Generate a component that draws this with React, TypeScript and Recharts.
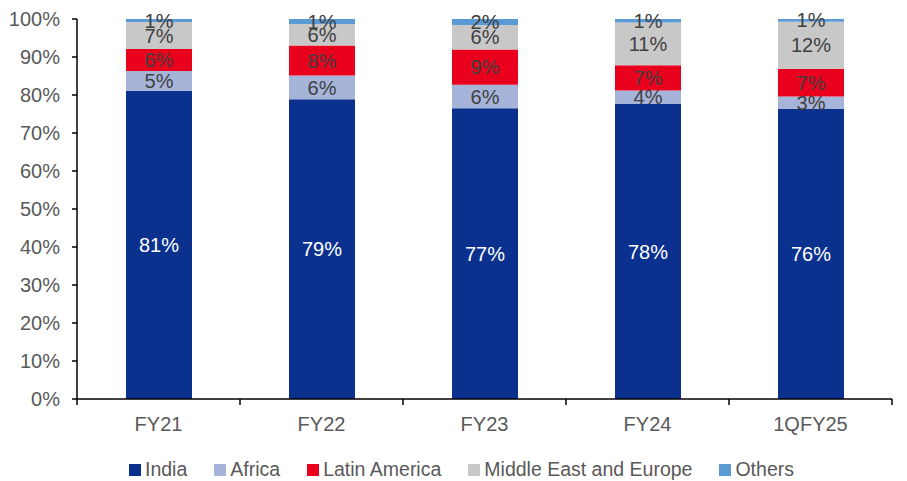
import React from 'react';
import { BarChart, Bar, XAxis, YAxis, Legend, LabelList } from 'recharts';

const categories = ['FY21', 'FY22', 'FY23', 'FY24', '1QFY25'];
const india = [81.1, 78.9, 76.5, 77.6, 76.3];
const africa = [5.2, 6.2, 6.2, 3.6, 3.3];
const latinAmerica = [5.8, 7.9, 9.3, 6.6, 7.3];
const middleEastEurope = [7.1, 5.7, 6.4, 11.3, 12.4];
const others = [0.8, 1.3, 1.6, 0.9, 0.7];
const yTicks = [0, 10, 20, 30, 40, 50, 60, 70, 80, 90, 100];

const series = [
  { key: 'india', name: 'India', color: '#0b318f', label: '#ffffff' },
  { key: 'africa', name: 'Africa', color: '#a6b4da', label: '#404040' },
  { key: 'latam', name: 'Latin America', color: '#e8001c', label: '#404040' },
  { key: 'mee', name: 'Middle East and Europe', color: '#c8c8c9', label: '#404040' },
  { key: 'others', name: 'Others', color: '#5b9bd5', label: '#404040' },
];

const data = categories.map((c, i) => ({
  name: c,
  india: india[i],
  africa: africa[i],
  latam: latinAmerica[i],
  mee: middleEastEurope[i],
  others: others[i],
}));

const FONT = '"Liberation Sans", Arial, sans-serif';
const FS = 20;
const W = 907;
const H = 481;
const MARGIN = { top: 19, right: 15, left: 0, bottom: 0 };
const Y_W = 77;
const PLOT_W = W - MARGIN.left - MARGIN.right - Y_W;
const TICK = 6;
const TICK_GAP = 12;

const XTick = (props: any) => {
  const { x, y, payload, index } = props;
  const band = PLOT_W / categories.length;
  const axisY = y - TICK - TICK_GAP;
  return (
    <g>
      <line x1={x - band / 2} x2={x - band / 2} y1={axisY} y2={axisY + TICK} stroke="#000" strokeWidth={1.5} />
      {index === categories.length - 1 && (
        <line x1={x + band / 2} x2={x + band / 2} y1={axisY} y2={axisY + TICK} stroke="#000" strokeWidth={1.5} />
      )}
      <text x={x} y={y} dy="0.71em" textAnchor="middle" fill="#595959" fontSize={FS} fontFamily={FONT}>
        {payload.value}
      </text>
    </g>
  );
};

const LegendContent = () => (
  <div style={{ display: 'flex', justifyContent: 'center', paddingTop: 5, paddingLeft: 31, fontFamily: FONT, fontSize: 19.5, color: '#595959' }}>
    {series.map((s, i) => (
      <div key={s.key} style={{ display: 'flex', alignItems: 'center', marginRight: i < series.length - 1 ? 27 : 0 }}>
        <span style={{ width: 12, height: 12, background: s.color, display: 'inline-block', marginRight: 4 }} />
        <span>{s.name}</span>
      </div>
    ))}
  </div>
);

export default function App() {
  return (
    <div style={{ position: 'absolute', left: 0, top: 0, background: '#fff' }}>
      <BarChart width={W} height={H} data={data} margin={MARGIN}>
        <XAxis
          dataKey="name"
          height={54}
          axisLine={{ stroke: '#000', strokeWidth: 1.5 }}
          tickLine={false}
          tickSize={TICK}
          tickMargin={TICK_GAP}
          tick={<XTick />}
          interval={0}
        />
        <YAxis
          width={Y_W}
          domain={[0, 100]}
          ticks={yTicks}
          interval={0}
          tickFormatter={(v) => `${v}%`}
          axisLine={{ stroke: '#000', strokeWidth: 1.5 }}
          tickLine={{ stroke: '#000', strokeWidth: 1.5 }}
          tickSize={5}
          tickMargin={12}
          tick={{ fill: '#595959', fontSize: FS, fontFamily: FONT }}
        />
        <Legend verticalAlign="bottom" content={<LegendContent />} />
        {series.map((s) => (
          <Bar key={s.key} dataKey={s.key} name={s.name} stackId="a" fill={s.color} barSize={66} isAnimationActive={false}>
            <LabelList
              dataKey={s.key}
              position="center"
              formatter={(v: any) => `${Math.round(v)}%`}
              fill={s.label}
              fontSize={FS}
              fontFamily={FONT}
            />
          </Bar>
        ))}
      </BarChart>
    </div>
  );
}
